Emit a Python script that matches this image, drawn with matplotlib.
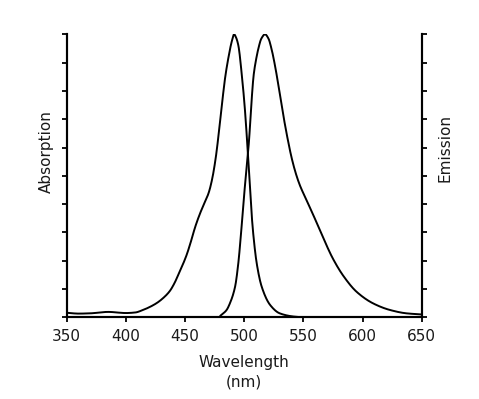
import matplotlib
matplotlib.use("Agg")
import matplotlib.pyplot as plt
import numpy as np

# Absorption spectrum (normalized)
abs_nm = [350, 360, 370, 385, 400, 408, 414, 420, 426, 431, 437, 441, 444.5, 448, 451.5,
          455, 458.5, 462.5, 466, 470, 473, 476, 478.5, 481, 484, 487, 489.5, 491.5,
          493, 495, 498, 500.5, 502.5, 504.3, 506, 508, 510.6, 514.8, 522, 530, 541, 549]
abs_val = [0.016, 0.013, 0.014, 0.019, 0.015, 0.017, 0.025, 0.036, 0.05, 0.066, 0.092,
           0.12, 0.152, 0.185, 0.222, 0.268, 0.318, 0.365, 0.40, 0.44, 0.49, 0.565, 0.65,
           0.745, 0.85, 0.925, 0.975, 1.0, 0.99, 0.962, 0.856, 0.74, 0.62, 0.50, 0.38,
           0.28, 0.19, 0.108, 0.043, 0.014, 0.003, 0.0]

# Emission spectrum (normalized)
em_nm = [480, 485, 488, 492.3, 495, 497.1, 499.3, 501.8, 504, 505.8, 508, 510, 512,
         514.5, 517.6, 520.5, 523, 526, 529.5, 533, 536.5, 540, 543.5, 547, 552, 558,
         566, 575, 584, 595, 609, 623, 637, 650]
em_val = [0.006, 0.025, 0.05, 0.108, 0.19, 0.285, 0.40, 0.52, 0.62, 0.738, 0.856, 0.91,
          0.95, 0.985, 1.0, 0.985, 0.95, 0.89, 0.805, 0.715, 0.635, 0.565, 0.51, 0.467,
          0.42, 0.365, 0.288, 0.207, 0.145, 0.090, 0.049, 0.026, 0.014, 0.010]

xticks = [350, 400, 450, 500, 550, 600, 650]

plt.rcParams['font.family'] = ['DejaVu Sans']

fig = plt.figure(figsize=(4.79, 3.99), dpi=100)
ax = fig.add_axes([0.1392, 0.2048, 0.8804 - 0.1392, 0.914 - 0.2048])


def smooth(xs, ys, n=800):
    xs = np.asarray(xs, float)
    ys = np.asarray(ys, float)
    xx = np.linspace(xs[0], xs[-1], n)
    # monotone cubic (PCHIP-like) interpolation
    h = np.diff(xs)
    d = np.diff(ys) / h
    m = np.zeros_like(ys)
    for i in range(1, len(xs) - 1):
        if d[i - 1] * d[i] > 0:
            w1 = 2 * h[i] + h[i - 1]
            w2 = h[i] + 2 * h[i - 1]
            m[i] = (w1 + w2) / (w1 / d[i - 1] + w2 / d[i])
    m[0] = d[0]
    m[-1] = d[-1]
    idx = np.clip(np.searchsorted(xs, xx) - 1, 0, len(xs) - 2)
    t = (xx - xs[idx]) / h[idx]
    h00 = 2 * t**3 - 3 * t**2 + 1
    h10 = t**3 - 2 * t**2 + t
    h01 = -2 * t**3 + 3 * t**2
    h11 = t**3 - t**2
    yy = h00 * ys[idx] + h10 * h[idx] * m[idx] + h01 * ys[idx + 1] + h11 * h[idx] * m[idx + 1]
    return xx, yy


ax.plot(*smooth(abs_nm, abs_val), color='black', lw=1.4, solid_joinstyle='round')
ax2 = ax.twinx()
ax2.plot(*smooth(em_nm, em_val), color='black', lw=1.4, solid_joinstyle='round')

for a in (ax, ax2):
    a.set_xlim(350, 650)
    a.set_ylim(0, 1)
    a.set_yticks(np.arange(0, 1.01, 0.1))
    a.set_yticklabels([])
    a.spines['top'].set_visible(False)
    for s in a.spines.values():
        s.set_linewidth(1.5)
    a.tick_params(width=1.3, length=3.5, direction='out')

ax.set_xticks(xticks)
ax.set_xticklabels([str(t) for t in xticks], fontsize=11)
ax.tick_params(axis='x', length=3.3, pad=5, labelcolor='#1a1a1a')

fig.text(46 / 479, 1 - 152 / 399, 'Absorption', rotation=90, ha='center', va='center',
         fontsize=11, color='#1a1a1a')
fig.text(445 / 479, 1 - 148 / 399, 'Emission', rotation=90, ha='center', va='center',
         fontsize=11, color='#1a1a1a')
fig.text(244 / 479, 1 - 372 / 399, 'Wavelength\n(nm)', ha='center', va='center',
         fontsize=11, color='#1a1a1a', linespacing=1.35)

fig.savefig('out.png', dpi=100)
